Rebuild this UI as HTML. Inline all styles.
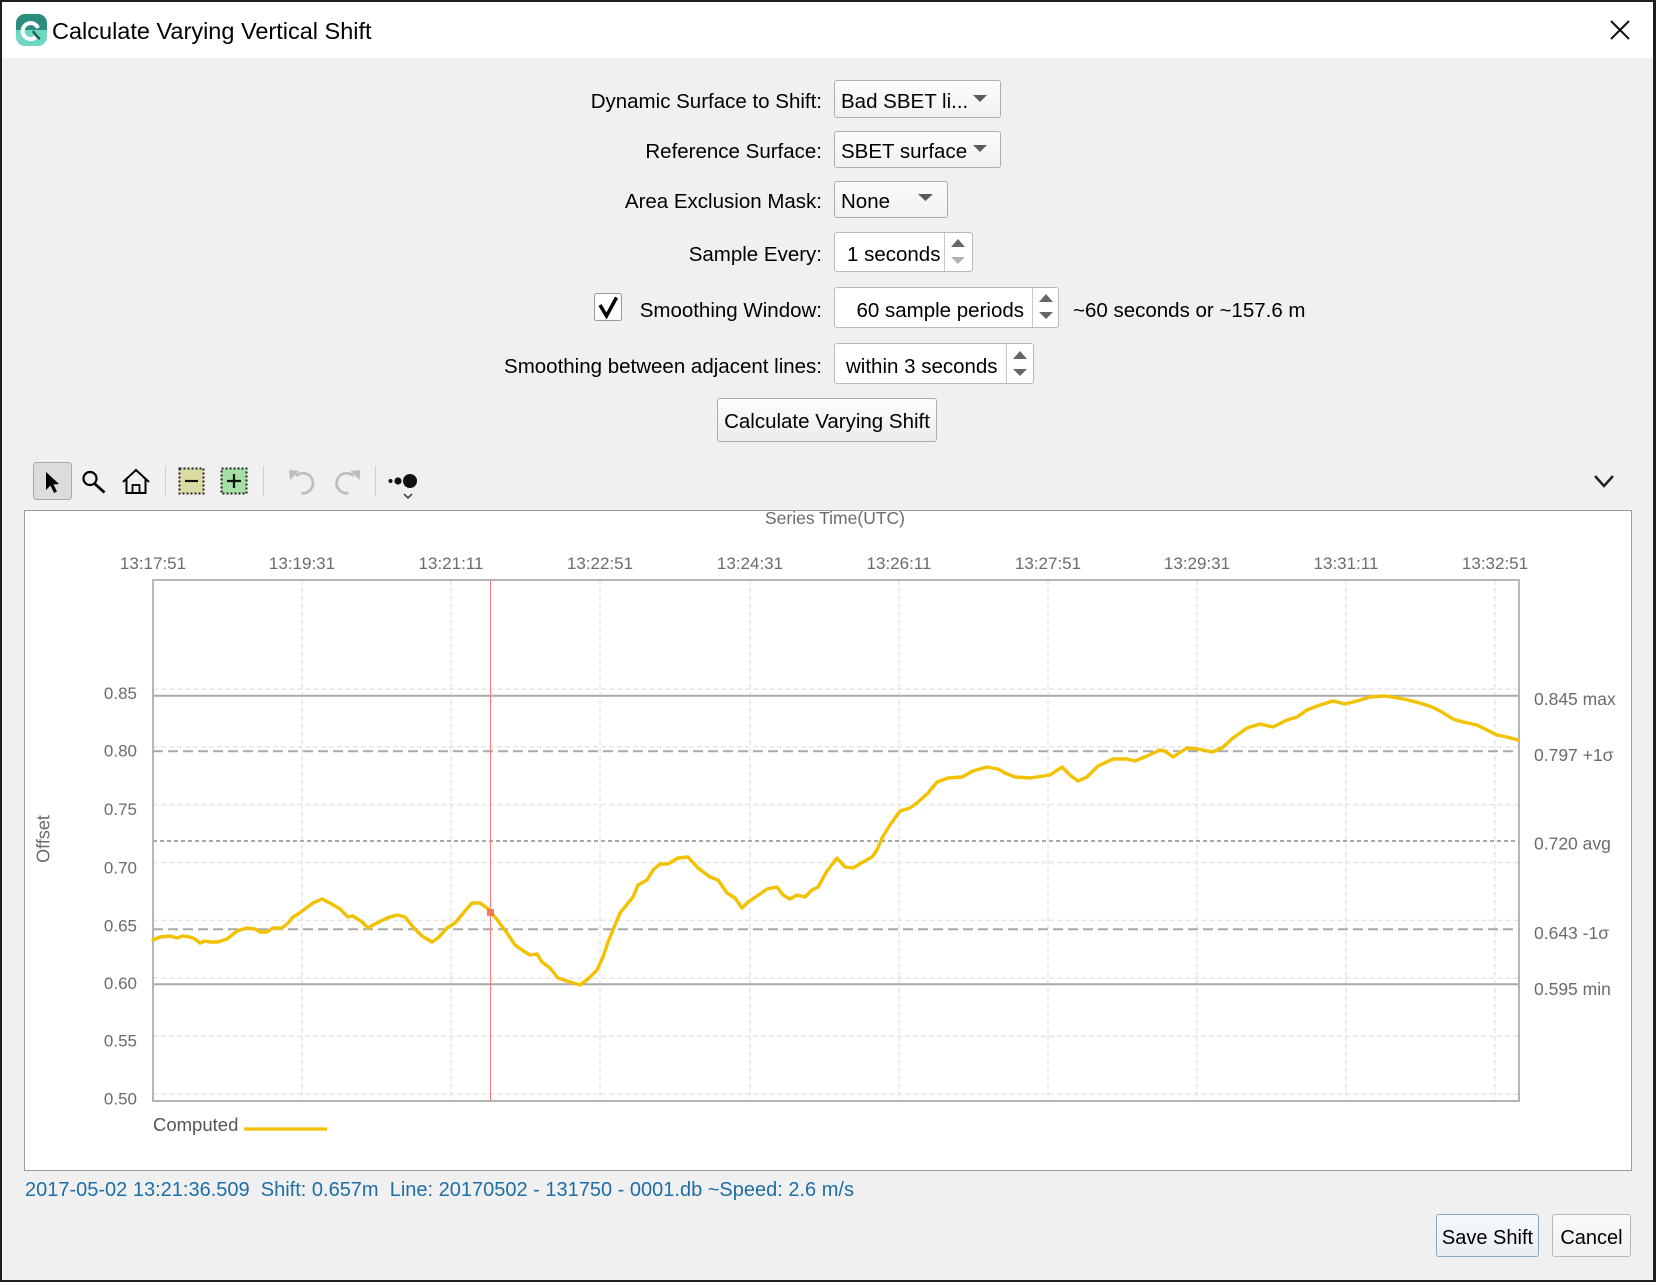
<!DOCTYPE html>
<html><head><meta charset="utf-8">
<style>
html,body{margin:0;padding:0;}
body{width:1656px;height:1282px;overflow:hidden;background:#1e1e1e;position:relative;font-family:"Liberation Sans",sans-serif;}
.a{position:absolute;}
.t{position:absolute;white-space:pre;font-size:20.5px;line-height:24px;color:#000;}
.lbl{left:0;width:822px;text-align:right;}
.combo{position:absolute;box-sizing:border-box;border:1px solid #adadad;border-radius:3px;background:linear-gradient(#fcfcfc,#f1f1f1);}
.spin{position:absolute;box-sizing:border-box;border:1px solid #b9b9b9;border-radius:3px;background:#fff;}
.btn{position:absolute;box-sizing:border-box;border:1px solid #adadad;border-radius:3px;background:linear-gradient(#fdfdfd,#ececec);text-align:center;font-size:20.5px;color:#000;}
</style></head>
<body>
<!-- dialog -->
<div class="a" style="left:2px;top:2px;width:1651px;height:1278px;background:#f0f0f0;"></div>
<div class="a" style="left:2px;top:2px;width:1651px;height:56px;background:#fff;"></div>
<div class="t" style="left:52px;top:17px;font-size:23.5px;line-height:28px;">Calculate Varying Vertical Shift</div>

<!-- form labels -->
<div class="t lbl" style="top:90px;">Dynamic Surface to Shift:</div>
<div class="t lbl" style="top:140px;">Reference Surface:</div>
<div class="t lbl" style="top:190px;">Area Exclusion Mask:</div>
<div class="t lbl" style="top:243px;">Sample Every:</div>
<div class="t lbl" style="top:299px;">Smoothing Window:</div>
<div class="t lbl" style="top:355px;">Smoothing between adjacent lines:</div>

<!-- combos -->
<div class="combo" style="left:834px;top:80px;width:167px;height:38px;"></div>
<div class="t" style="left:841px;top:90px;">Bad SBET li...</div>
<div class="combo" style="left:834px;top:131px;width:167px;height:37px;"></div>
<div class="t" style="left:841px;top:140px;">SBET surface</div>
<div class="combo" style="left:834px;top:181px;width:114px;height:37px;"></div>
<div class="t" style="left:841px;top:190px;">None</div>

<!-- spinners -->
<div class="spin" style="left:834px;top:232px;width:139px;height:40px;"></div>
<div class="a" style="left:944px;top:233px;width:1px;height:38px;background:#c8c8c8;"></div>
<div class="t" style="left:847px;top:243px;">1 seconds</div>

<div class="spin" style="left:834px;top:287px;width:225px;height:41px;"></div>
<div class="a" style="left:1032px;top:288px;width:1px;height:39px;background:#c8c8c8;"></div>
<div class="t" style="left:834px;width:190px;text-align:right;top:299px;">60 sample periods</div>
<div class="t" style="left:1073px;top:299px;">~60 seconds or ~157.6 m</div>

<div class="spin" style="left:834px;top:343px;width:200px;height:41px;"></div>
<div class="a" style="left:1006px;top:344px;width:1px;height:39px;background:#c8c8c8;"></div>
<div class="t" style="left:846px;top:355px;">within 3 seconds</div>

<div class="btn" style="left:717px;top:398px;width:220px;height:44px;line-height:40px;padding-top:3px;">Calculate Varying Shift</div>

<!-- chart panel -->
<div class="a" style="left:24px;top:510px;width:1608px;height:661px;box-sizing:border-box;border:1px solid #9c9c9c;background:#fff;"></div>

<!-- status -->
<div class="t" style="left:25px;top:1178px;font-size:20px;color:#1e6ea6;">2017-05-02 13:21:36.509  Shift: 0.657m  Line: 20170502 - 131750 - 0001.db ~Speed: 2.6 m/s</div>

<!-- bottom buttons -->
<div class="btn" style="left:1436px;top:1214px;width:103px;height:43px;line-height:40px;padding-top:3px;font-size:20px;border-color:#86a9c2;background:linear-gradient(#f6f9fc,#e9eef2);">Save Shift</div>
<div class="btn" style="left:1552px;top:1214px;width:79px;height:43px;line-height:40px;padding-top:3px;font-size:20px;background:linear-gradient(#fafafa,#f0f0f0);border-color:#b8b8b8;">Cancel</div>

<svg class="a" style="left:0;top:0;" width="1656" height="1282" viewBox="0 0 1656 1282" xmlns="http://www.w3.org/2000/svg" font-family="Liberation Sans, sans-serif">
  <!-- title icon -->
  <defs>
    <clipPath id="ic"><rect x="16" y="14" width="31" height="32" rx="9"/></clipPath>
  </defs>
  <g clip-path="url(#ic)">
    <rect x="16" y="14" width="31" height="16" fill="#2b8c7b"/>
    <rect x="16" y="30" width="31" height="16" fill="#6fd7c3"/>
  </g>
  <path d="M36,37 A8,8 0 1 1 38,28" stroke="#fff" stroke-width="4" fill="none"/>
  <path d="M33,31 Q36,36 40,39" stroke="#1f5f55" stroke-width="2.5" fill="none"/>
  <!-- close X -->
  <path d="M1611,21 L1629,39 M1629,21 L1611,39" stroke="#111" stroke-width="2"/>

  <!-- combo arrows -->
  <polygon points="973,95 987,95 980,102" fill="#5a5a5a"/>
  <polygon points="973,145 987,145 980,152" fill="#5a5a5a"/>
  <polygon points="918,194 933,194 925.5,201" fill="#5a5a5a"/>
  <!-- spinner arrows -->
  <polygon points="951,247 965,247 958,239" fill="#666"/>
  <polygon points="951,257 965,257 958,264" fill="#b0b0b0"/>
  <polygon points="1039,302 1053,302 1046,294" fill="#666"/>
  <polygon points="1039,312 1053,312 1046,319" fill="#666"/>
  <polygon points="1013,359 1027,359 1020,351" fill="#666"/>
  <polygon points="1013,369 1027,369 1020,376" fill="#666"/>

  <!-- checkbox -->
  <rect x="594.5" y="293.5" width="27" height="27" rx="2" fill="#fff" stroke="#9a9a9a" stroke-width="1"/>
  <path d="M600,305 L606.5,316 L616.5,297.5" stroke="#000" stroke-width="3.5" fill="none" stroke-linejoin="miter"/>

  <!-- toolbar -->
  <rect x="33.5" y="462.5" width="38" height="37" rx="3" fill="#dcdcdc" stroke="#a8a8a8"/>
  <path d="M46,472 L46,490 L50.5,485.5 L54,493 L57,491.5 L53.5,484.5 L59,484 Z" fill="#000"/>
  <circle cx="90" cy="478.5" r="6.5" stroke="#000" stroke-width="2.2" fill="none"/>
  <path d="M95,484 L104.5,492.5" stroke="#000" stroke-width="2.8"/>
  <path d="M123,482 L136,470 L149,482 M126.5,479 L126.5,493 L145.5,493 L145.5,479" stroke="#000" stroke-width="2" fill="none"/>
  <rect x="132.5" y="485" width="7" height="8" stroke="#000" stroke-width="1.8" fill="none"/>
  <path d="M165.5,466 L165.5,497 M263.5,466 L263.5,497 M375.5,466 L375.5,497" stroke="#cfcfcf" stroke-width="1"/>
  <rect x="179.5" y="468.5" width="24" height="25" fill="#dcdca2" stroke="#222" stroke-width="2" stroke-dasharray="2,2"/>
  <path d="M185,481 L198,481" stroke="#111" stroke-width="2.2"/>
  <rect x="221.5" y="468.5" width="25" height="25" fill="#a6dfa6" stroke="#222" stroke-width="2" stroke-dasharray="2,2"/>
  <path d="M227,481 L241,481 M234,474 L234,488" stroke="#111" stroke-width="2.2"/>
  <path d="M296,476 A10,10 0 1 1 301,493" stroke="#bdbdbd" stroke-width="2.6" fill="none"/>
  <polygon points="289,470 299,471 290,480" fill="#bdbdbd"/>
  <path d="M353.5,476 A10,10 0 1 0 348.5,493" stroke="#bdbdbd" stroke-width="2.6" fill="none"/>
  <polygon points="360.5,470 350.5,471 359.5,480" fill="#bdbdbd"/>
  <circle cx="390.5" cy="481" r="2" fill="#111"/>
  <circle cx="398" cy="481" r="3.6" fill="#111"/>
  <circle cx="410" cy="481" r="7" fill="#111"/>
  <path d="M404,494 L408,498 L412,494" stroke="#333" stroke-width="1.5" fill="none"/>
  <path d="M1595,476 L1604,486 L1613,476" stroke="#222" stroke-width="2.5" fill="none"/>

  <!-- gridlines -->
  <g stroke="#e6e6e6" stroke-width="1.5" stroke-dasharray="5,3">
    <path d="M153,689 H1519 M153,746.7 H1519 M153,804.6 H1519 M153,862.5 H1519 M153,920.4 H1519 M153,978.3 H1519 M153,1036.2 H1519 M153,1094.1 H1519"/>
    <path d="M302,580 V1101 M451,580 V1101 M600,580 V1101 M750,580 V1101 M899,580 V1101 M1048,580 V1101 M1197,580 V1101 M1346,580 V1101 M1495,580 V1101"/>
  </g>
  <!-- reference lines -->
  <g stroke="#a9a9a9" stroke-width="2" fill="none">
    <path d="M153,695.7 H1519"/>
    <path d="M153,751.3 H1519" stroke-dasharray="10,5"/>
    <path d="M153,841 H1519" stroke-dasharray="4,3"/>
    <path d="M153,929.3 H1519" stroke-dasharray="10,5"/>
    <path d="M153,984.3 H1519"/>
  </g>
  <!-- plot border -->
  <rect x="153" y="580" width="1366" height="521" fill="none" stroke="#b5b5b5" stroke-width="2"/>
  <!-- red cursor -->
  <path d="M490.5,580 V1101" stroke="#ff7b7b" stroke-width="1"/>
  <!-- series -->
  <polyline fill="none" stroke="#f2c100" stroke-width="3.4" stroke-linejoin="round" stroke-linecap="round" points="153,940 160,937 170,936 177,938 183,936 190,937 195,939 200,943 205,941 210,942 218,942 227,939 237,931 247,928 255,929 260,932 267,932 273,928 282,928 288,923 293,917 298,914 305,909 313,903 322,899 330,903 340,909 348,917 353,916 362,922 368,928 373,925 383,920 390,917 397,915 405,917 413,927 422,936 432,942 438,938 447,928 455,923 465,911 472,903 480,903 487,908 495,917 507,933 515,945 522,950 530,955 537,954 542,962 550,968 558,978 570,982 580,985 588,979 597,970 603,957 608,942 620,913 633,897 638,885 647,880 653,870 660,864 668,864 678,858 688,857 698,868 710,877 718,880 727,893 735,898 742,908 748,902 757,896 767,889 777,887 783,895 790,899 797,895 805,897 812,890 818,887 827,871 837,858 845,867 853,868 863,862 872,857 877,850 882,838 890,825 900,811 910,808 917,803 928,793 937,782 948,778 962,777 973,771 987,767 998,769 1005,773 1015,777 1030,778 1050,775 1062,767 1070,775 1078,781 1087,777 1098,766 1113,759 1127,759 1135,761 1147,756 1160,750 1165,751 1173,757 1187,748 1198,749 1212,752 1222,748 1233,738 1247,728 1260,724 1273,727 1287,720 1297,717 1307,710 1320,705 1333,701 1345,704 1357,701 1370,697 1385,696 1398,698 1408,700 1420,703 1432,707 1442,712 1453,719 1463,722 1477,725 1487,730 1497,735 1507,737 1518,740"/>
  <rect x="487" y="909" width="7" height="7" fill="#f26a5a" opacity="0.85"/>

  <!-- axis texts -->
  <text x="835" y="524" font-size="17.5" fill="#6b6b6b" text-anchor="middle">Series Time(UTC)</text>
  <g font-size="17" fill="#6b6b6b" text-anchor="middle">
    <text x="153" y="569">13:17:51</text>
    <text x="302" y="569">13:19:31</text>
    <text x="451" y="569">13:21:11</text>
    <text x="600" y="569">13:22:51</text>
    <text x="750" y="569">13:24:31</text>
    <text x="899" y="569">13:26:11</text>
    <text x="1048" y="569">13:27:51</text>
    <text x="1197" y="569">13:29:31</text>
    <text x="1346" y="569">13:31:11</text>
    <text x="1495" y="569">13:32:51</text>
  </g>
  <g font-size="17" fill="#6b6b6b" text-anchor="end">
    <text x="137" y="699">0.85</text>
    <text x="137" y="756.7">0.80</text>
    <text x="137" y="815">0.75</text>
    <text x="137" y="873.4">0.70</text>
    <text x="137" y="931.4">0.65</text>
    <text x="137" y="989">0.60</text>
    <text x="137" y="1046.7">0.55</text>
    <text x="137" y="1104.7">0.50</text>
  </g>
  <g font-size="17.5" fill="#6b6b6b">
    <text x="1534" y="704.8">0.845 max</text>
    <text x="1534" y="760.8">0.797 +1σ</text>
    <text x="1534" y="849.5">0.720 avg</text>
    <text x="1534" y="938.8">0.643 -1σ</text>
    <text x="1534" y="994.8">0.595 min</text>
  </g>
  <text transform="translate(49.5,839) rotate(-90)" font-size="18" fill="#6b6b6b" text-anchor="middle">Offset</text>
  <!-- legend -->
  <text x="153" y="1131" font-size="18.5" fill="#555">Computed</text>
  <path d="M244,1129 H327" stroke="#f2c100" stroke-width="3.2"/>
</svg>
</body></html>
